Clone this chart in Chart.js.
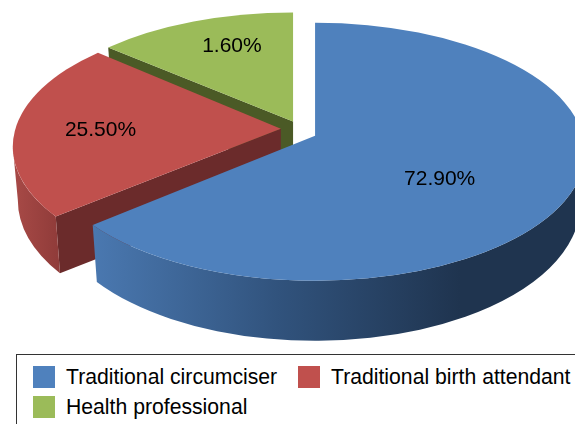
<!DOCTYPE html>
<html>
<head>
<meta charset="utf-8">
<title>Pie</title>
<script src="https://cdn.jsdelivr.net/npm/chart.js@4"></script>
<style>
    html, body { margin: 0; padding: 0; background: #fff; overflow: hidden; }
    #wrap { position: relative; width: 575px; height: 424px; overflow: hidden; }
    #pie { position: absolute; left: 0; top: 0; }
    #legend {
        position: absolute; left: 16px; top: 354px; width: 600px; height: 100px;
        border: 1px solid #333; box-sizing: border-box; background: #fff;
        font: 21.2px "Liberation Sans", Arial, sans-serif; color: #000;
    }
    #legend div { position: absolute; white-space: nowrap; line-height: 24px; }
    #legend i { position: absolute; width: 22px; height: 22px; left: -33px; top: 1px; }
</style>
</head>
<body>
<div id="wrap">
    <canvas id="pie" width="575" height="424"></canvas>
    <div id="legend"></div>
</div>
<script>
const categories = ['Traditional circumciser', 'Traditional birth attendant', 'Health professional'];
// percentages printed on the slices
const labelValues = [72.9, 25.5, 1.6];
// share of the circle each slice really covers in the picture (not the same as the printed numbers)
const sliceShare = [65.4, 22.6, 12.0];
const colors = ['#4f81bd', '#c0504d', '#9bbb59'];

// Fake 3D look: squash the library's arcs and extrude them
const pie3d = {
    id: 'pie3d',
    beforeDatasetDraw() { return false; }, // arcs are painted below instead
    afterDatasetsDraw(chart) {
        const ctx = chart.ctx;
        const arcs = chart.getDatasetMeta(0).data;
        const cx = 298, cy = 147.5, rx = 270, ry = 129;
        // lower rim is narrower and rounder (perspective)
        const rxLow = rx - 5, ryLow = ry + 7, drop = 53, tipDrop = 58;
        const tip = [[0, 16], [-2, 18], [0, 20]]; // slice tip sits above the ellipse centre
        const startNudge = [0, 1.8, 0]; // degrees, red is rotated slightly in the picture
        const labelPos = [[0.508, -3], [0.687, 4.5], [0.77, 4.5]]; // radius, angle nudge

        const blueWall = ctx.createLinearGradient(94, 0, 460, 0);
        blueWall.addColorStop(0, '#4a78b0');
        blueWall.addColorStop(0.5, '#31537d');
        blueWall.addColorStop(1, '#1f344f');
        const redWall = ctx.createLinearGradient(13, 0, 60, 0);
        redWall.addColorStop(0, '#a84a47');
        redWall.addColorStop(1, '#8f3b39');
        const walls = [blueWall, redWall, null];
        const faces = [null, '#6b2b2b', '#4b5a26'];

        const geom = arcs.map((arc, i) => {
            const R = arc.outerRadius;
            const mid = (arc.startAngle + arc.endAngle) / 2;
            const k = (arc.options.offset / 4) / R;
            return {
                x: cx + Math.cos(mid) * k * rx,
                y: cy + Math.sin(mid) * k * ry,
                a0: arc.startAngle + startNudge[i] * Math.PI / 180,
                a1: arc.endAngle,
                mid
            };
        });

        // back to front
        [2, 1, 0].forEach((i) => {
            const g = geom[i];
            const tipX = g.x + tip[i][0];
            const tipY = g.y - tip[i][1];

            if (faces[i]) {
                ctx.beginPath();
                ctx.moveTo(g.x + Math.cos(g.a0) * rx, g.y + Math.sin(g.a0) * ry);
                ctx.lineTo(tipX, tipY);
                ctx.lineTo(tipX, tipY + tipDrop);
                ctx.lineTo(g.x + Math.cos(g.a0) * rxLow, g.y + drop + Math.sin(g.a0) * ryLow);
                ctx.closePath();
                ctx.fillStyle = faces[i];
                ctx.fill();
            }

            const w0 = Math.max(g.a0, 0), w1 = Math.min(g.a1, Math.PI);
            if (walls[i] && w1 > w0) {
                ctx.beginPath();
                ctx.ellipse(g.x, g.y, rx, ry, 0, w0, w1);
                ctx.ellipse(g.x, g.y + drop, rxLow, ryLow, 0, w1, w0, true);
                ctx.closePath();
                ctx.fillStyle = walls[i];
                ctx.fill();
            }

            ctx.beginPath();
            ctx.ellipse(g.x, g.y, rx, ry, 0, g.a0, g.a1);
            ctx.lineTo(tipX, tipY);
            ctx.closePath();
            ctx.fillStyle = colors[i];
            ctx.fill();
        });

        ctx.font = '21px "Liberation Sans", Arial, sans-serif';
        ctx.fillStyle = '#000';
        ctx.textAlign = 'center';
        ctx.textBaseline = 'middle';
        geom.forEach((g, i) => {
            const t = g.mid + labelPos[i][1] * Math.PI / 180;
            const r = labelPos[i][0];
            ctx.fillText(labelValues[i].toFixed(2) + '%', g.x + Math.cos(t) * r * rx, g.y + Math.sin(t) * r * ry);
        });
    }
};

new Chart(document.getElementById('pie'), {
    type: 'pie',
    data: {
        labels: categories,
        datasets: [{
            data: sliceShare,
            backgroundColor: colors,
            borderWidth: 0,
            offset: [53, 42, 37]
        }]
    },
    options: {
        responsive: false,
        animation: false,
        plugins: {
            legend: { display: false },
            tooltip: { enabled: false }
        }
    },
    plugins: [pie3d]
});

// Legend box
const legendPos = [[49, 10], [314, 10], [49, 40]];
const legend = document.getElementById('legend');
categories.forEach((name, i) => {
    const row = document.createElement('div');
    row.style.left = legendPos[i][0] + 'px';
    row.style.top = legendPos[i][1] + 'px';
    row.textContent = name;
    const box = document.createElement('i');
    box.style.background = colors[i];
    row.appendChild(box);
    legend.appendChild(row);
});
</script>
</body>
</html>
